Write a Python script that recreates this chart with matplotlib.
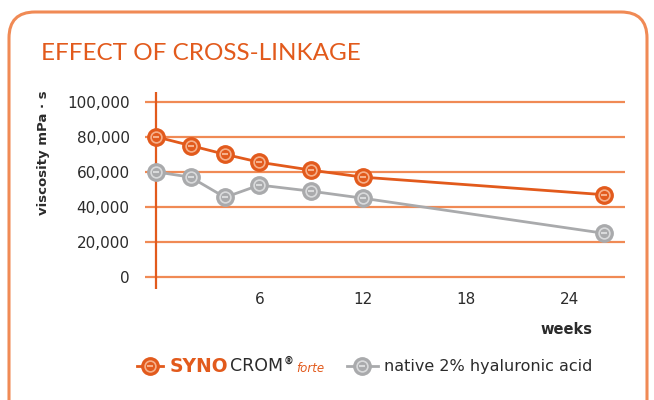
import matplotlib.pyplot as plt
from matplotlib.patches import FancyBboxPatch

# data
weeks = [0, 2, 4, 6, 9, 12, 26]
synocrom = [80000, 75000, 70000, 65500, 61000, 57000, 47000]
native_ha = [60000, 57000, 45500, 52500, 49000, 45000, 25000]
y_ticks = [0, 20000, 40000, 60000, 80000, 100000]
x_ticks = [6, 12, 18, 24]

orange = '#E25A1C'
orange_light = '#F08A55'
grey = '#A9AAAC'
grey_light = '#D9DADB'
dark = '#2B2B2B'

plt.rcParams['font.family'] = ['DejaVu Sans']

fig = plt.figure(figsize=(6.54, 4.0), dpi=100)
renderer = fig.canvas.get_renderer()

# overlay in pixel coords for frame, title and legend
bg = fig.add_axes([0, 0, 1, 1])
bg.set_xlim(0, 654)
bg.set_ylim(400, 0)
bg.axis('off')
bg.add_patch(FancyBboxPatch((9, 12), 638, 420, boxstyle='round,pad=0,rounding_size=26',
                            fc='white', ec=orange_light, lw=2.2))
bg.text(41, 54, 'EFFECT OF CROSS-LINKAGE', color=orange, fontsize=17.5,
        family='Lato', va='center', ha='left')
bg.text(43, 153, 'viscosity mPa · s', rotation=90, color=dark, fontsize=9.5,
        fontweight='bold', va='center', ha='center')
bg.text(592, 330, 'weeks', color=dark, fontsize=10.5, fontweight='bold', ha='right', va='center')


def marker(axis, x, y, fill, ring, size):
    axis.plot(x, y, 'o', ms=size, mfc=fill, mec=fill, mew=1, zorder=5, clip_on=False)
    axis.plot(x, y, 'o', ms=size * 0.62, mfc='none', mec=ring, mew=1.2, zorder=6, clip_on=False)
    axis.plot(x, y, '_', ms=size * 0.35, mec=ring, mew=1.5, zorder=7, clip_on=False)


def right_edge(t):
    bb = t.get_window_extent(renderer)
    return bg.transData.inverted().transform((bb.x1, bb.y0))[0]


# legend
bg.plot([137, 163], [366, 366], color=orange, lw=2)
marker(bg, [150], [366], orange, '#F6B08A', 12.5)
t = bg.text(170, 366, 'SYNO', color=orange, fontsize=13.5, fontweight='bold', va='center', ha='left')
t = bg.text(right_edge(t) + 1, 366, 'CROM', color=dark, fontsize=12.5, va='center', ha='left')
x = right_edge(t)
t = bg.text(x + 1, 361, '®', color=dark, fontsize=7, fontweight='bold', va='center', ha='left')
bg.text(right_edge(t) + 3, 368, 'forte', color=orange, fontsize=8.5, style='italic', va='center', ha='left')
bg.plot([347, 378], [366, 366], color=grey, lw=2)
marker(bg, [362], [366], grey, grey_light, 12.5)
bg.text(384, 366, 'native 2% hyaluronic acid', color=dark, fontsize=11.5, va='center', ha='left')

# chart
ax = fig.add_axes([145 / 654, 1 - 289 / 400, 480 / 654, 197 / 400])
ax.set_xlim(-0.64, 27.2)
ax.set_ylim(-6700, 105500)
ax.patch.set_alpha(0)
for s in ax.spines.values():
    s.set_visible(False)
for v in y_ticks:
    ax.axhline(v, color=orange_light, lw=1.6, zorder=1)
ax.axvline(0, color=orange, lw=1.6, zorder=1)

ax.plot(weeks, native_ha, color=grey, lw=2, zorder=3)
ax.plot(weeks, synocrom, color=orange, lw=2, zorder=4)
marker(ax, weeks, native_ha, grey, grey_light, 12.5)
marker(ax, weeks, synocrom, orange, '#F6B08A', 12.5)

ax.set_yticks(y_ticks)
ax.set_yticklabels([f'{v:,}' for v in y_ticks])
ax.set_xticks(x_ticks)
ax.tick_params(axis='y', length=0, pad=11, labelsize=11, labelcolor=dark)
ax.tick_params(axis='x', length=0, pad=2, labelsize=11, labelcolor=dark)

fig.savefig('out.png', dpi=100)
